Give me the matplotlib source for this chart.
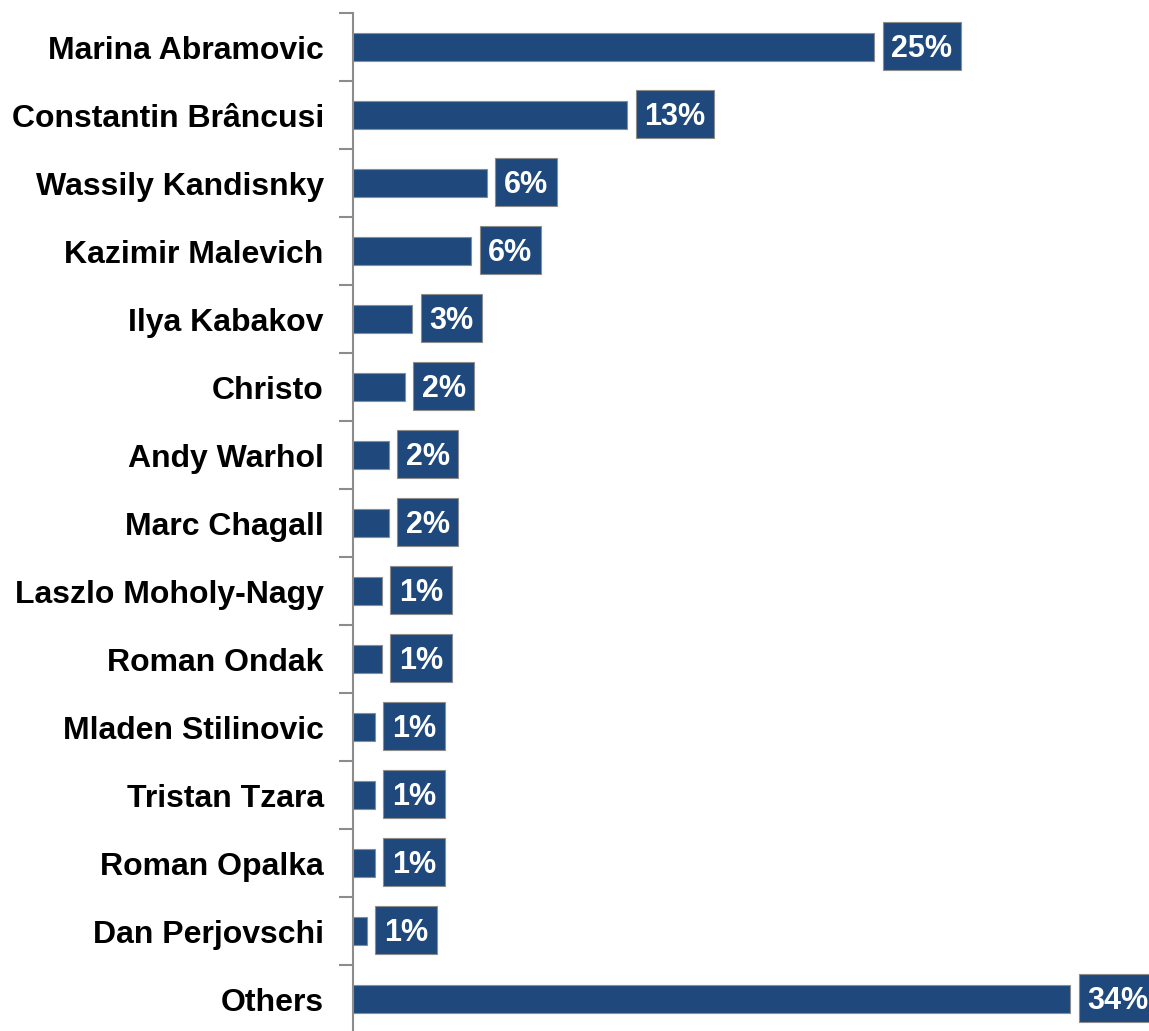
import matplotlib
matplotlib.use('Agg')
from matplotlib import pyplot as plt
from matplotlib.path import Path

artists = ['Marina Abramovic', 'Constantin Brâncusi', 'Wassily Kandisnky', 'Kazimir Malevich',
           'Ilya Kabakov', 'Christo', 'Andy Warhol', 'Marc Chagall', 'Laszlo Moholy-Nagy',
           'Roman Ondak', 'Mladen Stilinovic', 'Tristan Tzara', 'Roman Opalka', 'Dan Perjovschi',
           'Others']
shares = [24.7, 13.0, 6.35, 5.6, 2.8, 2.45, 1.7, 1.7, 1.37, 1.37, 1.04, 1.04, 1.04, 0.66, 34.0]
labels = ['25%', '13%', '6%', '6%', '3%', '2%', '2%', '2%', '1%', '1%', '1%', '1%', '1%', '1%', '34%']

bar_color = '#1F497D'
plt.rcParams['font.family'] = ['Liberation Sans', 'DejaVu Sans']


def label_box(x0, y0, width, height, mutation_size):
    # square box, nudged up so the digits sit in the middle (text extent includes descent)
    pad = 0.28 * mutation_size
    lift = 0.1 * mutation_size
    x1, y1 = x0 + width + pad, y0 + height + pad + lift
    x0, y0 = x0 - pad, y0 - pad + lift
    return Path([(x0, y0), (x1, y0), (x1, y1), (x0, y1), (x0, y0)],
                [Path.MOVETO, Path.LINETO, Path.LINETO, Path.LINETO, Path.CLOSEPOLY])


fig = plt.figure(figsize=(11.49, 10.31), dpi=100)
ax = fig.add_axes([353 / 1149, 0, 1 - 353 / 1149, 1 - 13 / 1031])

pos = list(range(len(artists)))
ax.barh(pos, shares, height=0.4, color=bar_color, edgecolor='#8c8c8c', linewidth=0.8)

for y, v, lab in zip(pos, shares, labels):
    ax.annotate(lab, (v, y), xytext=(17, -2), textcoords='offset pixels',
                ha='left', va='center', color='white', fontsize=22, fontweight='bold',
                bbox=dict(boxstyle=label_box, fc=bar_color, ec='#8c8c8c', lw=0.8))

ax.set_xlim(0, 796 / 21.1)
ax.set_ylim(14.47, -0.5)
ax.set_yticks(pos)
ax.set_yticklabels(artists, fontsize=23, fontweight='bold')
ax.set_yticks([i - 0.5 for i in range(len(artists))], minor=True)
ax.tick_params(axis='y', which='major', length=0, pad=21)
ax.tick_params(axis='y', which='minor', length=10, width=1.5, color='#8c8c8c')
ax.set_xticks([])
for s in ['top', 'right', 'bottom']:
    ax.spines[s].set_visible(False)
ax.spines['left'].set_color('#8c8c8c')
ax.spines['left'].set_linewidth(1.5)
ax.patch.set_visible(False)

fig.savefig('out.png', dpi=100)
